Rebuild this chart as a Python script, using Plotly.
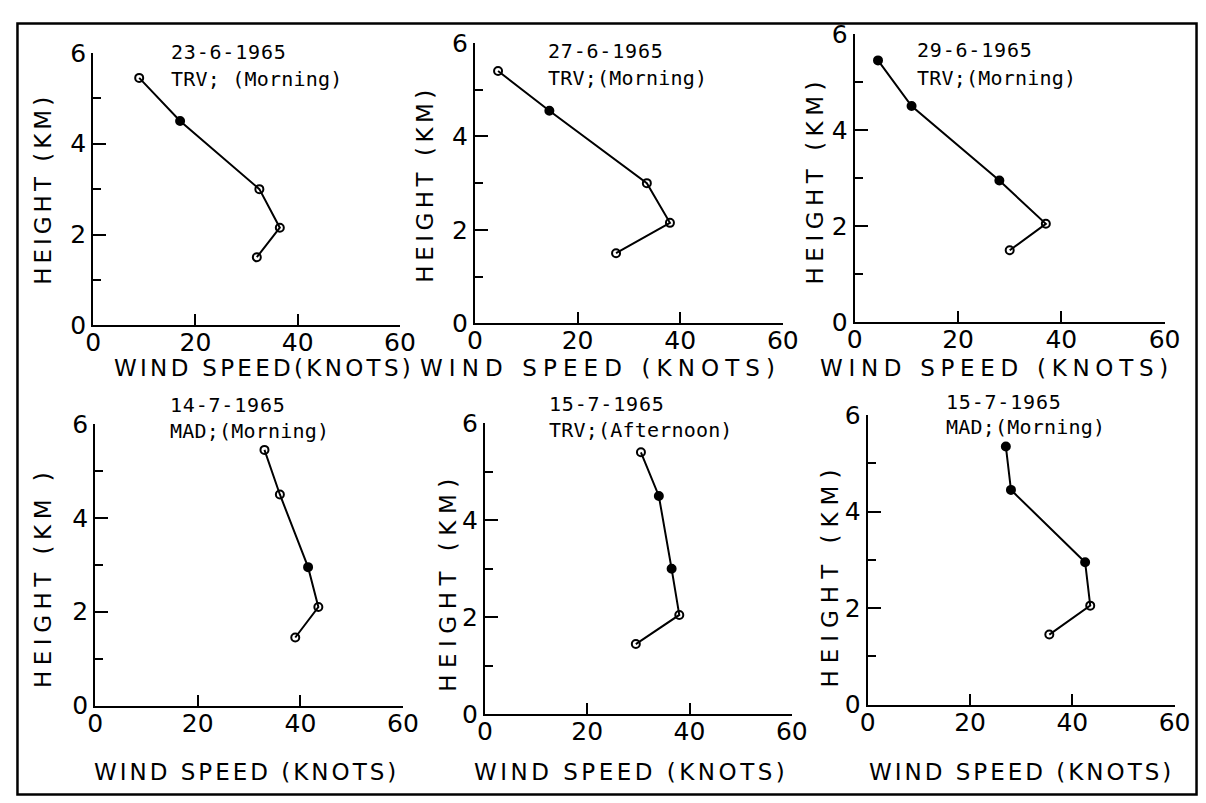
import plotly.graph_objects as go

W, H = 1206, 803

# ---- data ----
titles_date = ["23-6-1965", "27-6-1965", "29-6-1965", "14-7-1965", "15-7-1965", "15-7-1965"]
titles_site = ["TRV; (Morning)", "TRV;(Morning)", "TRV;(Morning)", "MAD;(Morning)", "TRV;(Afternoon)", "MAD;(Morning)"]

speed_1 = [9, 17, 32.5, 36.5, 32]
height_1 = [5.45, 4.5, 3.0, 2.15, 1.5]
speed_2 = [4.5, 14.5, 33.5, 38, 27.5]
height_2 = [5.4, 4.55, 3.0, 2.15, 1.5]
speed_3 = [4.5, 11, 28, 37, 30]
height_3 = [5.45, 4.5, 2.95, 2.05, 1.5]
speed_4 = [33, 36, 41.5, 43.5, 39]
height_4 = [5.45, 4.5, 2.95, 2.1, 1.45]
speed_5 = [30.5, 34, 36.5, 38, 29.5]
height_5 = [5.4, 4.5, 3.0, 2.05, 1.45]
speed_6 = [27, 28, 42.5, 43.5, 35.5]
height_6 = [5.35, 4.45, 2.95, 2.05, 1.45]

filled_1 = [0, 1, 0, 0, 0]
filled_2 = [0, 1, 0, 0, 0]
filled_3 = [1, 1, 1, 0, 0]
filled_4 = [0, 0, 1, 0, 0]
filled_5 = [0, 1, 1, 0, 0]
filled_6 = [1, 1, 1, 0, 0]

x_ticks = [0, 20, 40, 60]
y_ticks = [0, 2, 4, 6]
x_titles = ["WIND SPEED(KNOTS)", "WIND SPEED (KNOTS)", "WIND SPEED (KNOTS)",
            "WIND SPEED (KNOTS)", "WIND SPEED (KNOTS)", "WIND SPEED (KNOTS)"]
y_titles = ["HEIGHT (KM)", "HEIGHT (KM)", "HEIGHT (KM)",
            "HEIGHT (KM )", "HEIGHT (KM)", "HEIGHT (KM)"]

speeds = [speed_1, speed_2, speed_3, speed_4, speed_5, speed_6]
heights = [height_1, height_2, height_3, height_4, height_5, height_6]
filled = [filled_1, filled_2, filled_3, filled_4, filled_5, filled_6]

# ---- layout geometry (target pixels in the photographed page) ----
boxes = [  # x0, x1, ybottom, ytop
    (93, 400, 325, 52),
    (475, 783, 323, 42),
    (855, 1165, 322, 33),
    (95, 403, 706, 424),
    (485, 792, 715, 423),
    (868, 1175, 705, 415),
]
label_pos = [  # left x, line1 y, line2 y
    (169, 51, 78),
    (546, 50, 77),
    (915, 49, 77),
    (168, 405, 431),
    (547, 404, 430),
    (944, 402, 427),
]
xtitle_pos = [(264, 368), (601, 368), (997, 368), (246, 773), (631, 773), (1022, 773)]
xtitle_sp = [3.3, 6.1, 5.7, 3, 3.5, 3]
ytitle_pos = [(42, 188), (425, 183), (815, 180), (43, 578), (448, 582), (830, 575)]
ytitle_sp = [4, 4.5, 5.5, 5.5, 6.5, 7]

FONT = "DejaVu Sans"
MONO = "DejaVu Sans Mono"

# the page shows the figure scaled and shifted; map target pixels to figure coords
SX, OX = 0.9806, 15.8
SY, OY = 0.966, 21.0
FS = 1 / 0.973

def px(x):
    return ((x - OX) / SX) / W

def py(y):
    return 1 - ((y - OY) / SY) / H

def spaced(t, sp):
    return '<span style="letter-spacing:%.1fpx">%s</span>' % (sp, t)

fig = go.Figure()
annotations = []
for i in range(6):
    n = "" if i == 0 else str(i + 1)
    x0, x1, yb, yt = boxes[i]
    symbols = ["circle" if f else "circle-open" for f in filled[i]]
    fig.add_trace(go.Scatter(
        x=speeds[i], y=heights[i], mode="lines+markers",
        xaxis="x" + n, yaxis="y" + n,
        line=dict(color="black", width=2),
        marker=dict(symbol=symbols, size=8, color="black", line=dict(color="black", width=2)),
        cliponaxis=False, showlegend=False, hoverinfo="x+y",
    ))
    common = dict(showline=True, linecolor="black", linewidth=2, showgrid=False,
                  zeroline=False, ticks="inside", tickcolor="black", tickwidth=2,
                  tickfont=dict(family=FONT, size=round(24 * FS), color="black"))
    fig.layout["xaxis" + n] = dict(
        domain=[px(x0), px(x1)], range=[0, 60], anchor="y" + n,
        tickvals=x_ticks, ticklen=11, ticklabelstandoff=-6, **common)
    fig.layout["yaxis" + n] = dict(
        domain=[py(yb), py(yt)], range=[0, 6], anchor="x" + n,
        tickvals=y_ticks, ticklen=13,
        minor=dict(tickvals=[1, 3, 5], ticklen=8, tickwidth=2, tickcolor="black", ticks="inside"),
        **common)
    lx, l1, l2 = label_pos[i]
    annotations.append(dict(x=px(lx), y=py(l1), xref="paper", yref="paper",
                            text=spaced(titles_date[i], 0.8),
                            showarrow=False, xanchor="left", yanchor="middle",
                            font=dict(family=MONO, size=round(19 * FS), color="black")))
    annotations.append(dict(x=px(lx), y=py(l2), xref="paper", yref="paper",
                            text=spaced(titles_site[i], 0.2),
                            showarrow=False, xanchor="left", yanchor="middle",
                            font=dict(family=MONO, size=round(19 * FS), color="black")))
    tx, ty = xtitle_pos[i]
    annotations.append(dict(x=px(tx), y=py(ty), xref="paper", yref="paper",
                            text=spaced(x_titles[i], xtitle_sp[i]),
                            showarrow=False, xanchor="center", yanchor="middle",
                            font=dict(family=FONT, size=round(22 * FS), color="black")))
    vx, vy = ytitle_pos[i]
    annotations.append(dict(x=px(vx), y=py(vy), xref="paper", yref="paper",
                            text=spaced(y_titles[i], ytitle_sp[i]),
                            showarrow=False, xanchor="center", yanchor="middle", textangle=-90,
                            font=dict(family=FONT, size=round(22 * FS), color="black")))

fig.update_layout(
    width=W, height=H, margin=dict(l=0, r=0, t=0, b=0),
    paper_bgcolor="white", plot_bgcolor="white",
    annotations=annotations,
    shapes=[dict(type="rect", xref="paper", yref="paper",
                 x0=1.5 / W, x1=min(px(1197), 1 - 1.5 / W),
                 y0=max(py(798), 1.5 / H), y1=1 - 1.5 / H,
                 line=dict(color="black", width=2.5))],
)

fig.write_html("out.html")
